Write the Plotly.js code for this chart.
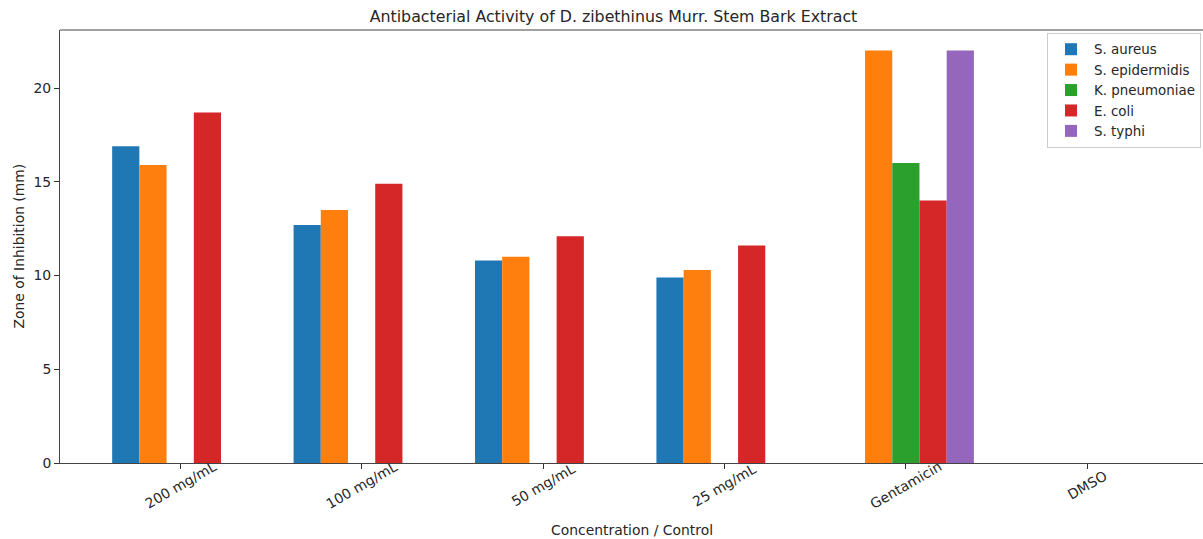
<!DOCTYPE html>
<html>
<head>
<meta charset="utf-8">
<script src="https://cdn.plot.ly/plotly-3.0.1.min.js"></script>
<style>html,body{margin:0;padding:0;background:#fff;}#chart{width:1203px;height:539px;}</style>
</head>
<body>
<div id="chart"></div>
<script>
const categories = ["200 mg/mL", "100 mg/mL", "50 mg/mL", "25 mg/mL", "Gentamicin", "DMSO"];
const sAureus = [16.9, 12.7, 10.8, 9.9, 0, 0];
const sEpidermidis = [15.9, 13.5, 11.0, 10.3, 22, 0];
const kPneumoniae = [0, 0, 0, 0, 16, 0];
const eColi = [18.7, 14.9, 12.1, 11.6, 14, 0];
const sTyphi = [0, 0, 0, 0, 22, 0];
const seriesNames = ["S. aureus", "S. epidermidis", "K. pneumoniae", "E. coli", "S. typhi"];
const yTicks = [0, 5, 10, 15, 20];

const colors = ["#1f77b4", "#ff7f0e", "#2ca02c", "#d62728", "#9467bd"];
const allSeries = [sAureus, sEpidermidis, kPneumoniae, eColi, sTyphi];
const xIdx = categories.map((c, i) => i);

const traces = allSeries.map((vals, k) => ({
  type: "bar",
  name: seriesNames[k],
  x: xIdx,
  y: vals,
  marker: {color: colors[k], line: {width: 0}},
  hoverinfo: "y+name"
}));

const font = {family: "DejaVu Sans, sans-serif", color: "#262626", size: 13.9};
const plotLeft = 59.5, plotRight = 1203, pxPerUnit = 181.5;
const plotW = plotRight - plotLeft;
const xMin = -0.6625;
const xMax = xMin + plotW / pxPerUnit;

const annotations = categories.map((c, i) => ({
  x: i, xref: "x", y: 0, yref: "paper", yshift: -22,
  text: c, showarrow: false, textangle: -30,
  xanchor: "center", yanchor: "middle", font: font
}));
annotations.push({
  x: 0.5, xref: "paper", y: 0, yref: "paper", yshift: -67,
  text: "Concentration / Control", showarrow: false,
  xanchor: "center", yanchor: "middle", font: font
});
annotations.push({
  x: 0, xref: "paper", xshift: -42, y: 0.5, yref: "paper",
  text: "Zone of Inhibition (mm)", showarrow: false, textangle: -90,
  xanchor: "center", yanchor: "middle", font: font
});

const layout = {
  width: 1203, height: 539,
  margin: {l: 59.5, r: 0, t: 30, b: 76, pad: 0},
  paper_bgcolor: "#fff", plot_bgcolor: "#fff",
  font: font,
  title: {text: "Antibacterial Activity of D. zibethinus Murr. Stem Bark Extract",
    font: {family: "DejaVu Sans, sans-serif", size: 15.8, color: "#262626"},
    x: 613.5 / 1203, xref: "container", xanchor: "center", y: 1 - 16 / 539, yref: "container", yanchor: "middle"},
  barmode: "group", bargap: 0.25, bargroupgap: 0,
  xaxis: {
    range: [xMin, xMax], tickvals: xIdx, showticklabels: false,
    ticks: "outside", ticklen: 5, tickcolor: "#333", tickwidth: 1,
    showline: true, linecolor: "#444", linewidth: 1, showgrid: false, zeroline: false,
    fixedrange: true
  },
  yaxis: {
    range: [0, 23.1], tickvals: yTicks, ticktext: yTicks.map(String),
    ticks: "outside", ticklen: 5, tickcolor: "#333", tickwidth: 1,
    showline: true, linecolor: "#444", linewidth: 1, showgrid: false, zeroline: false,
    tickfont: font
  },
  shapes: [{type: "line", xref: "paper", yref: "paper", x0: 0, x1: 1, y0: 1, y1: 1,
    line: {color: "#444", width: 1}}],
  legend: {
    x: (1201 - plotLeft) / plotW, xanchor: "right",
    y: 1 - 3 / 433, yanchor: "top",
    bgcolor: "rgba(255,255,255,0.8)", bordercolor: "#ccc", borderwidth: 1,
    font: {family: "DejaVu Sans, sans-serif", color: "#262626", size: 13.4},
    tracegroupgap: 0, itemwidth: 36
  },
  annotations: annotations,
  showlegend: true
};

Plotly.newPlot("chart", traces, layout, {displayModeBar: false, staticPlot: true});
</script>
</body>
</html>
